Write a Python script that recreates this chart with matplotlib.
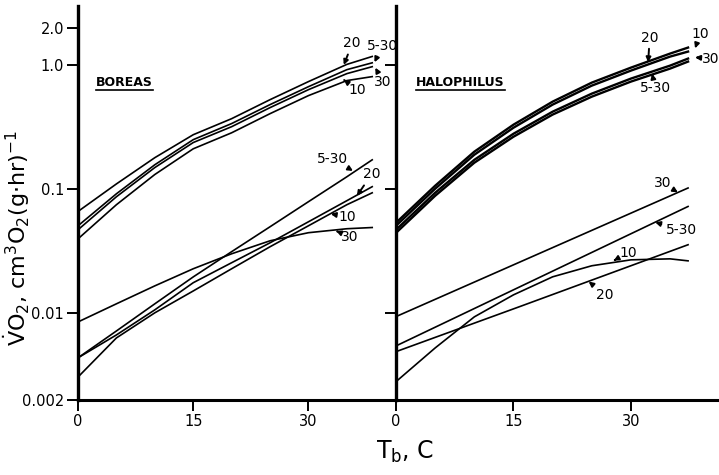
import numpy as np
import matplotlib
matplotlib.use("Agg")
import matplotlib.pyplot as plt
from matplotlib.lines import Line2D

plt.rcParams['font.family'] = ['DejaVu Sans']
plt.rcParams['mathtext.fontset'] = 'dejavusans'

# ---- data (Tb in C, VO2 in cm3 O2 / (g hr)) ----
# BOREAS, upper group
t_bor_up = [0, 5, 10, 15, 20, 25, 30, 35, 38.3]
bor_up_20 = [0.066, 0.110, 0.179, 0.274, 0.369, 0.525, 0.734, 1.01, 1.17]
bor_up_530 = [0.0506, 0.0916, 0.157, 0.250, 0.337, 0.479, 0.668, 0.916, 1.04]
bor_up_30 = [0.047, 0.0867, 0.149, 0.237, 0.318, 0.453, 0.632, 0.851, 0.968]
bor_up_10 = [0.0397, 0.0748, 0.131, 0.211, 0.284, 0.405, 0.566, 0.748, 0.805]

# BOREAS, lower group
t_bor_lo = [0, 5, 10, 15, 20, 25, 30, 35, 38.3]
bor_lo_530 = [0.00437, 0.00719, 0.0119, 0.0196, 0.0313, 0.0497, 0.0791, 0.1256, 0.172]
bor_lo_20 = [0.00437, 0.00668, 0.01064, 0.0176, 0.0255, 0.0369, 0.0545, 0.0806, 0.1045]
bor_lo_10 = [0.00306, 0.00632, 0.01007, 0.0151, 0.0228, 0.0343, 0.0506, 0.0748, 0.0933]
bor_lo_30 = [0.0085, 0.0119, 0.0166, 0.0228, 0.0301, 0.0383, 0.0445, 0.0479, 0.049]

# HALOPHILUS, upper group
t_hal_up = [0, 5, 10, 15, 20, 25, 30, 35, 37.3]
hal_up_10 = [0.0535, 0.1064, 0.200, 0.330, 0.506, 0.720, 0.951, 1.234, 1.380]
hal_up_20 = [0.0506, 0.1006, 0.189, 0.312, 0.479, 0.681, 0.900, 1.167, 1.281]
hal_up_530 = [0.0470, 0.0934, 0.172, 0.279, 0.420, 0.587, 0.776, 0.987, 1.125]
hal_up_30 = [0.0444, 0.0883, 0.163, 0.264, 0.398, 0.555, 0.734, 0.934, 1.064]

# HALOPHILUS, lower group
t_hal_lo = [0, 15.8, 37.3]
hal_lo_30 = [0.00939, 0.0258, 0.102]
hal_lo_530 = [0.00545, 0.0163, 0.0724]
hal_lo_20 = [0.0049, 0.0113, 0.0356]
t_hal_lo10 = [0, 5, 10, 15, 20, 25, 30, 35, 37.3]
hal_lo_10 = [0.00281, 0.00525, 0.00934, 0.01405, 0.01963, 0.0241, 0.0269, 0.0274, 0.0264]

y_ticks = [0.002, 0.01, 0.1, 1.0, 2.0]
y_ticklabels = ["0.002", "0.01", "0.1", "1.0", "2.0"]
x_ticks = [0, 15, 30]

# curve labels: (text, arrow tip T, arrow tip VO2, text T, text VO2)
bor_labels = [
    ("20", 34.6, 1.00, 35.7, 1.49),
    ("5-30", 38.6, 1.05, 39.6, 1.43),
    ("30", 38.7, 0.95, 39.7, 0.73),
    ("10", 34.6, 0.76, 36.3, 0.63),
    ("5-30", 35.8, 0.14, 33.1, 0.176),
    ("20", 36.3, 0.088, 38.2, 0.131),
    ("10", 32.9, 0.063, 35.0, 0.060),
    ("30", 33.6, 0.046, 35.4, 0.0413),
]
hal_labels = [
    ("20", 32.2, 1.05, 32.4, 1.66),
    ("10", 38.2, 1.36, 38.8, 1.76),
    ("30", 38.2, 1.15, 40.2, 1.125),
    ("5-30", 32.7, 0.85, 33.1, 0.656),
    ("30", 36.0, 0.094, 34.0, 0.1125),
    ("5-30", 33.1, 0.054, 36.4, 0.047),
    ("10", 27.8, 0.0265, 29.6, 0.0306),
    ("20", 24.6, 0.018, 26.7, 0.01406),
]

fig = plt.figure(figsize=(7.19, 4.75), dpi=100)
ax1 = fig.add_axes([0.1085, 0.158, 0.4423, 0.83])
ax2 = fig.add_axes([0.5508, 0.158, 0.4492, 0.83])


def style(ax, xmax, ylabels):
    ax.set_yscale('log')
    ax.set_xlim(0, xmax)
    ax.set_ylim(0.002, 3.0)
    for s in ['top', 'right']:
        ax.spines[s].set_visible(False)
    ax.spines['left'].set_linewidth(2.4)
    ax.spines['bottom'].set_linewidth(2.2)
    ax.set_xticks(x_ticks)
    ax.set_xticklabels([str(v) for v in x_ticks], fontsize=10.5)
    ax.yaxis.set_minor_locator(matplotlib.ticker.NullLocator())
    ax.tick_params(direction='out', length=8, width=1.4, pad=2)
    if ylabels:
        ax.set_yticks(y_ticks)
        ax.set_yticklabels(y_ticklabels, fontsize=10.5)
    else:
        ax.set_yticks([0.01, 0.1, 1.0])
        ax.set_yticklabels(["", "", ""])
    ax.patch.set_alpha(0)


style(ax1, 41.4, True)
style(ax2, 41.25, False)

lw = 1.2
for s in [bor_up_20, bor_up_530, bor_up_30, bor_up_10]:
    ax1.plot(t_bor_up, s, color='black', lw=lw)
for s in [bor_lo_530, bor_lo_20, bor_lo_10, bor_lo_30]:
    ax1.plot(t_bor_lo, s, color='black', lw=lw)

for s in [hal_up_10, hal_up_20, hal_up_530, hal_up_30]:
    ax2.plot(t_hal_up, s, color='black', lw=1.7)
for s in [hal_lo_30, hal_lo_530, hal_lo_20]:
    ax2.plot(t_hal_lo, s, color='black', lw=lw)
ax2.plot(t_hal_lo10, hal_lo_10, color='black', lw=lw)


def label_curves(ax, labels):
    for txt, tx, ty, lx, ly in labels:
        ax.annotate(txt, xy=(tx, ty), xytext=(lx, ly), fontsize=10,
                    ha='center', va='center', annotation_clip=False,
                    arrowprops=dict(arrowstyle='-|>', color='black', lw=1.4,
                                    mutation_scale=7, shrinkA=1, shrinkB=0))


label_curves(ax1, bor_labels)
label_curves(ax2, hal_labels)

# panel titles, bold and underlined
t1 = ax1.text(2.3, 0.72, "BOREAS", fontsize=9, fontweight='bold', va='center')
t2 = ax2.text(2.55, 0.72, "HALOPHILUS", fontsize=9, fontweight='bold', va='center')
fig.canvas.draw()
r = fig.canvas.get_renderer()
inv = fig.transFigure.inverted()
for t in [t1, t2]:
    bb = t.get_window_extent(r)
    (x0, y0) = inv.transform((bb.x0, bb.y0 - 1))
    (x1, _) = inv.transform((bb.x1, bb.y0 - 1))
    fig.add_artist(Line2D([x0, x1], [y0, y0], color='black', lw=1.2))

fig.text(17 / 719, 1 - 238 / 475,
         r'$\dot{\mathrm{V}}\mathrm{O}_2$, cm$^3$O$_2$(g$\cdot$hr)$^{-1}$',
         rotation=90, ha='center', va='center', fontsize=16)
fig.text(405 / 719, 1 - 452 / 475, r'T$_\mathrm{b}$, C',
         ha='center', va='center', fontsize=17)

fig.savefig("out.png", dpi=100)
